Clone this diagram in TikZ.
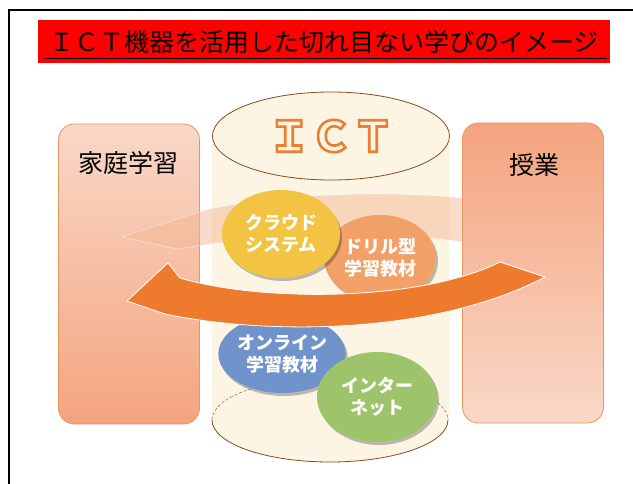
\documentclass[tikz,border=0pt]{standalone}
\usepackage{fontspec}
\newfontfamily\jpfont{Noto Sans CJK JP}
\usetikzlibrary{shapes.geometric}
\usetikzlibrary{shadows}

\definecolor{titlered}{HTML}{FF0000}
\definecolor{cream}{HTML}{FCF5E4}
\definecolor{rimbrown}{HTML}{8A4A1C}
\definecolor{ictorange}{HTML}{EE7D31}
\definecolor{boxedge}{HTML}{E8955E}
\definecolor{salmonlight}{HTML}{F9D8C8}
\definecolor{salmondark}{HTML}{F4A47E}
\definecolor{loopfaint}{HTML}{F4B894}
\definecolor{loopstrong}{HTML}{EE7A2E}
\definecolor{cloudyellow}{HTML}{F3C443}
\definecolor{drillorange}{HTML}{F1A068}
\definecolor{onlineblue}{HTML}{7093CB}
\definecolor{netgreen}{HTML}{9DC46B}

% hollow letters: cream fill, orange stroke
\newcommand{\hollowtext}[1]{\textcolor{cream}{\special{pdf:literal direct 0.933 0.490 0.192 RG 2.6 w 2 Tr}#1\special{pdf:literal direct 0 Tr}}}

\tikzset{
  placebox/.style={draw=boxedge, line width=0.8, rounded corners=16, minimum width=141, minimum height=300},
  bubble/.style={ellipse, text=white, align=center, inner sep=0,
    font=\jpfont\bfseries\fontsize{18}{22}\selectfont,
    drop shadow={shadow xshift=2pt, shadow yshift=-3pt, opacity=0.25, fill=black}},
  boxlabel/.style={font=\jpfont\fontsize{25}{25}\selectfont, text=black}
}

\begin{document}
\begin{tikzpicture}[x=1pt, y=-1pt]
            \useasboundingbox (0,0) rectangle (633,484);
            \fill[white] (0,0) rectangle (633,484);

            % Frame
            \draw[line width=1.6] (9,10) rectangle (650,500);

            % Title
            \node[fill=titlered, minimum width=572, minimum height=43, inner sep=0,
                  font=\jpfont\fontsize{25}{25}\selectfont] (title) at (324,42) {ＩＣＴ機器を活用した切れ目ない学びのイメージ};
            \draw[line width=1.4] ([xshift=5, yshift=5]title.south west) -- ([xshift=-3, yshift=5]title.south east);

            % Home study
            \node[placebox, top color=salmonlight, bottom color=salmondark] (home) at (129,274) {};
            \node[boxlabel] (homelabel) at (128,163) {家庭学習};

            % ICT cylinder
            \fill[cream] (212,136) rectangle (449,420);
            \coordinate (cylbase) at (330,420);
            \fill[cream] (cylbase) ellipse [x radius=118, y radius=42];
            \draw[rimbrown, densely dashed] (cylbase) ++(-118,0) arc[start angle=180, end angle=360, x radius=118, y radius=42];
            \draw[rimbrown, line width=0.8] (cylbase) ++(-118,0) arc[start angle=180, end angle=0, x radius=118, y radius=42];
            \node[ellipse, draw=rimbrown, line width=0.8, fill=cream, minimum width=237, minimum height=88] (ict) at (331,136) {};
            \node[font=\jpfont\bfseries\fontsize{42}{42}\selectfont] (icttext) at (ict) {\hollowtext{ＩＣＴ}};

            % Back loop
            \fill[loopfaint, opacity=0.5, draw=white, line width=0.6]
              (122,237) -- (205,210) .. controls (280,194) and (380,190) .. (463,198)
              -- (463,242) .. controls (380,230) and (280,232) .. (178,249) -- cycle;

            % Class
            \node[placebox, top color=salmondark, bottom color=salmonlight] (class) at (533,273) {};
            \node[boxlabel] (classlabel) at (534,165) {授業};

            % Tools
            \node[bubble, fill=drillorange, minimum width=112, minimum height=86] (drill) at (380,258) {ドリル型\\学習教材};
            \node[bubble, fill=cloudyellow, minimum width=118, minimum height=88] (cloud) at (281,234) {クラウド\\システム};
            \node[bubble, fill=onlineblue, minimum width=120, minimum height=78] (online) at (282,354) {オンライン\\学習教材};

            % Front loop
            \fill[loopstrong, draw=white, line width=0.8]
              (127,301) -- (168,263) -- (180,278)
              .. controls (260,302) and (420,302) .. (500,262)
              -- (545,277)
              .. controls (430,337) and (260,334) .. (165,314) -- cycle;

            \node[bubble, fill=netgreen, minimum width=120, minimum height=90] (net) at (377,397) {インター\\ネット};

        \end{tikzpicture}
\end{document}
